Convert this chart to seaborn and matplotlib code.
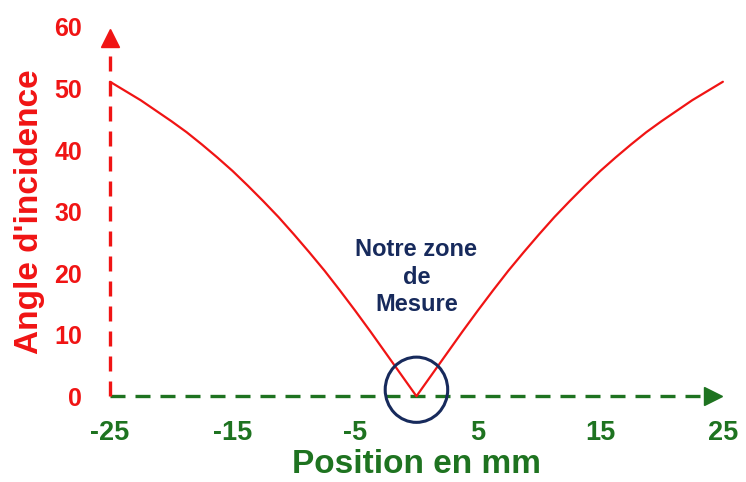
import numpy as np
import pandas as pd
import seaborn as sns
import matplotlib.pyplot as plt
from matplotlib.patches import Ellipse

# values
position_mm = [-25, -23.75, -22.5, -21.25, -20, -18.75, -17.5, -16.25, -15,
               -13.75, -12.5, -11.25, -10, -8.75, -7.5, -6.25, -5, -3.75,
               -2.5, -1.25, 0, 1.25, 2.5, 3.75, 5, 6.25, 7.5, 8.75, 10,
               11.25, 12.5, 13.75, 15, 16.25, 17.5, 18.75, 20, 21.25, 22.5,
               23.75, 25]
angle_deg = [51.1, 49.6, 48.1, 46.4, 44.7, 42.9, 40.9, 38.8, 36.6,
             34.2, 31.7, 29.1, 26.3, 23.4, 20.4, 17.2, 13.9, 10.5,
             7.0, 3.5, 0, 3.5, 7.0, 10.5, 13.9, 17.2, 20.4, 23.4, 26.3,
             29.1, 31.7, 34.2, 36.6, 38.8, 40.9, 42.9, 44.7, 46.4, 48.1,
             49.6, 51.1]
x_ticks = [-25, -15, -5, 5, 15, 25]
y_ticks = [0, 10, 20, 30, 40, 50, 60]

red = '#f01414'
green = '#1e7320'
navy = '#172a5c'

sns.set_style('white')
plt.rcParams['font.family'] = ['Liberation Sans', 'DejaVu Sans']
plt.rcParams['font.weight'] = 'bold'

df = pd.DataFrame({'position': position_mm, 'angle': angle_deg})

fig = plt.figure(figsize=(7.46, 4.82), dpi=100)
ax = fig.add_axes([0.1475, 0.178, 0.8215, 0.766])

sns.lineplot(data=df, x='position', y='angle', color=red, linewidth=1.6, ax=ax,
             clip_on=False, zorder=4)

ax.set_xlim(x_ticks[0], x_ticks[-1])
ax.set_ylim(y_ticks[0], y_ticks[-1])
for s in ax.spines.values():
    s.set_visible(False)

# dashed axes with arrow heads
ax.plot([x_ticks[0], x_ticks[-1] - 1.0], [0, 0], color=green, lw=2.4,
        dashes=(4.5, 3), clip_on=False, zorder=3)
ax.plot([x_ticks[-1] - 0.8], [0], marker='>', ms=13, color=green,
        clip_on=False, zorder=3)
ax.plot([x_ticks[0], x_ticks[0]], [0, y_ticks[-1] - 2.5], color=red, lw=2.4,
        dashes=(4.5, 3), clip_on=False, zorder=3)
ax.plot([x_ticks[0]], [y_ticks[-1] - 1.8], marker='^', ms=13, color=red,
        clip_on=False, zorder=3)

ax.set_xticks(x_ticks)
ax.set_xticklabels([str(t) for t in x_ticks])
ax.set_yticks(y_ticks)
ax.set_yticklabels([str(t) for t in y_ticks])
ax.tick_params(axis='x', direction='in', length=6, width=2, color=green,
               labelcolor=green, labelsize=19.5, pad=17)
ax.tick_params(axis='y', direction='in', length=6, width=2, color=red,
               labelcolor=red, labelsize=18, pad=20)
for lab in ax.get_xticklabels() + ax.get_yticklabels():
    lab.set_fontweight('bold')

ax.set_xlabel('Position en mm', color=green, fontsize=24, fontweight='bold',
              labelpad=2)
ax.set_ylabel("Angle d'incidence", color=red, fontsize=24, fontweight='bold',
              labelpad=7)

# measurement zone
ax.add_patch(Ellipse((0, 1.05), 5.1, 10.6, fill=False, edgecolor=navy, lw=2.2,
                     zorder=5, clip_on=False))
ax.text(0, 19.3, 'Notre zone\nde\nMesure', color=navy, fontsize=17,
        fontweight='bold', ha='center', va='center', linespacing=1.25)

fig.savefig('out.png', dpi=100)
